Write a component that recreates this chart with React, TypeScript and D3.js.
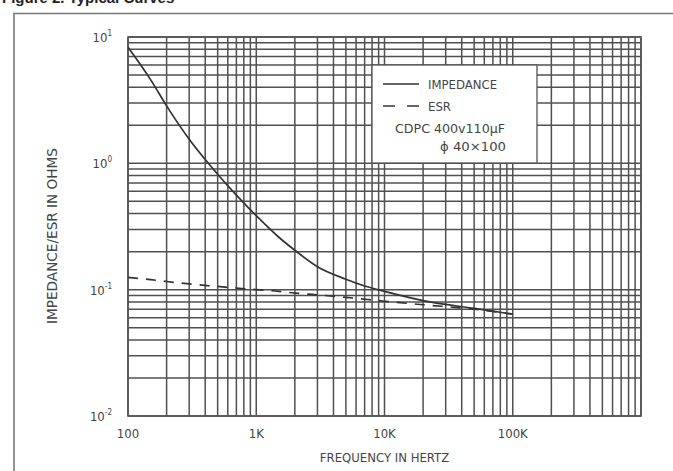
import React from "react";
import { scaleLog, line, curveMonotoneX, range } from "d3";

// impedance / ESR, Hz -> ohms
const freqs = [100, 150, 200, 300, 500, 700, 1000, 1500, 2000, 3000, 5000, 7000, 10000, 20000, 50000, 100000];
const impedance = [8.3, 4.6, 2.85, 1.55, 0.82, 0.56, 0.385, 0.26, 0.205, 0.152, 0.121, 0.107, 0.097, 0.082, 0.071, 0.064];
const esr = [0.125, 0.12, 0.116, 0.111, 0.106, 0.103, 0.1, 0.097, 0.094, 0.091, 0.087, 0.084, 0.081, 0.076, 0.07, 0.064];

const xDecades = [100, 1000, 10000, 100000];
const xTickLabels = ["100", "1K", "10K", "100K"];
const yDecades = [0.01, 0.1, 1];
const yTickExps = ["1", "0", "-1", "-2"];
const yTickValues = [10, 1, 0.1, 0.01];

const legendLabels = ["IMPEDANCE", "ESR"];
const noteLines = ["CDPC 400v110µF", "ϕ 40×100"];

const W = 673;
const H = 471;
const font = "'Liberation Sans Narrow', 'DejaVu Sans Condensed', 'Arial Narrow', sans-serif";
const ink = "#444";

export default function App() {
  const x = scaleLog().domain([100, 1e6]).range([128, 641]);
  const y = scaleLog().domain([0.01, 10]).range([416, 37]);

  const xGrid = xDecades.flatMap(d => range(1, 10).map(k => d * k)).concat([1e6]);
  const yGrid = yDecades.flatMap(d => range(1, 10).map(k => d * k)).concat([10]);

  const toPath = (vals: number[]) =>
    line<number>()
      .x((_, i) => x(freqs[i]))
      .y(v => y(v))
      .curve(curveMonotoneX)(vals) || "";

  const [x0, x1] = x.range();
  const [y1, y0] = y.range();

  return (
    <svg
      width={W}
      height={H}
      style={{ position: "absolute", left: 0, top: 0, background: "#fff" }}
      fontFamily={font}
    >
      {/* title of the page above, mostly cropped away */}
      <text x={2} y={3} fontSize={15} fontWeight="bold" fill="#222" fontFamily="'Liberation Sans', sans-serif">
        Figure 2. Typical Curves
      </text>

      {/* outer frame, open on right and bottom */}
      <path d={`M14,${H} V13.5 H${W}`} fill="none" stroke="#777" strokeWidth={1.6} />

      {/* grid */}
      <g stroke="#505050" strokeWidth={1.5}>
        {xGrid.map(v => (
          <line key={"gx" + v} x1={x(v)} x2={x(v)} y1={y0} y2={y1} />
        ))}
        {yGrid.map(v => (
          <line key={"gy" + v} x1={x0} x2={x1} y1={y(v)} y2={y(v)} />
        ))}
      </g>
      <rect x={x0} y={y0} width={x1 - x0} height={y1 - y0} fill="none" stroke="#555" strokeWidth={1.6} />

      {/* curves */}
      <path d={toPath(impedance)} fill="none" stroke="#333" strokeWidth={1.7} />
      <path d={toPath(esr)} fill="none" stroke="#333" strokeWidth={1.7} strokeDasharray="10,8" />

      {/* legend */}
      <g>
        <rect x={372} y={65} width={165} height={98} fill="#fff" stroke="#555" strokeWidth={1.3} />
        <line x1={383} x2={419} y1={84} y2={84} stroke="#333" strokeWidth={1.4} />
        <line x1={383} x2={419} y1={106} y2={106} stroke="#333" strokeWidth={1.4} strokeDasharray="12,12" />
        {legendLabels.map((t, i) => (
          <text key={t} x={428} y={89 + i * 22} fontSize={13} fill={ink}>
            {t}
          </text>
        ))}
        <text x={395} y={133} fontSize={13} fill={ink} textLength={110} lengthAdjust="spacingAndGlyphs">
          {noteLines[0]}
        </text>
        <text x={440} y={151} fontSize={13} fill={ink} textLength={66} lengthAdjust="spacingAndGlyphs">
          {noteLines[1]}
        </text>
      </g>

      {/* y tick labels */}
      {yTickValues.map((v, i) => (
        <text key={"yt" + i} x={112} y={y(v) + 5} fontSize={13} fill={ink} textAnchor="end">
          10
          <tspan fontSize={8} dy={-6}>
            {yTickExps[i]}
          </tspan>
        </text>
      ))}

      {/* x tick labels */}
      {xDecades.map((v, i) => (
        <text key={"xt" + v} x={x(v)} y={y1 + 22} fontSize={13} fill={ink} textAnchor="middle">
          {xTickLabels[i]}
        </text>
      ))}

      <text x={x(10000)} y={y1 + 46} fontSize={13} fill={ink} textAnchor="middle">
        FREQUENCY IN HERTZ
      </text>
      <text
        transform={`translate(57,236) rotate(-90)`}
        fontSize={14}
        fill={ink}
        textAnchor="middle"
        textLength={176}
        lengthAdjust="spacingAndGlyphs"
      >
        IMPEDANCE/ESR IN OHMS
      </text>
    </svg>
  );
}
